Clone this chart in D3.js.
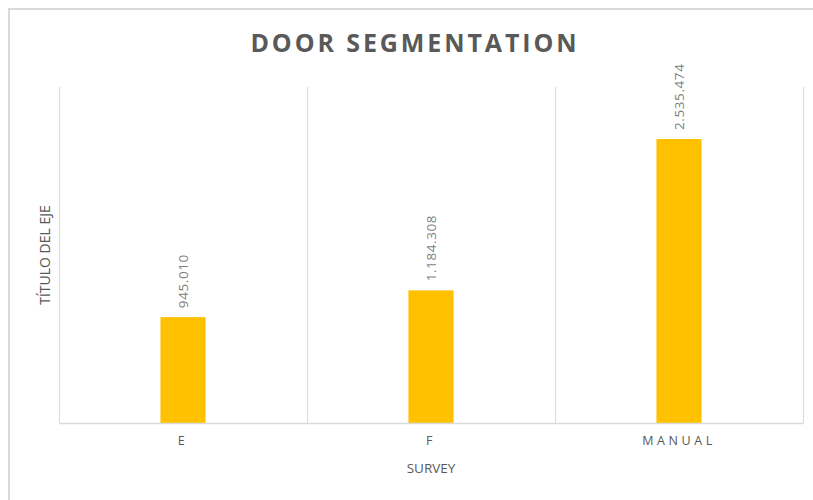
<!DOCTYPE html>
<html>
<head>
<meta charset="utf-8">
<script src="https://cdn.jsdelivr.net/npm/d3@7"></script>
<style>
  html, body { margin: 0; padding: 0; background: #ffffff; }
  svg { display: block; }
</style>
</head>
<body>
<svg id="chart" width="813" height="500"></svg>
<script>
// Door segmentation totals per survey type
const categories = ["E", "F", "MANUAL"];
const values = [945010, 1184308, 2535474];
const valueLabels = ["945.010", "1.184.308", "2.535.474"];
const yDomain = [0, 3000000];

const svg = d3.select("#chart");
const W = 813, H = 500;
const margin = { top: 87, right: 10, bottom: 77, left: 59 };
const plotW = W - margin.left - margin.right;   // 744
const plotH = H - margin.top - margin.bottom;   // 336

const font = "'Open Sans', 'Noto Sans', sans-serif";

// Chart frame
svg.append("rect")
  .attr("x", 9).attr("y", 9)
  .attr("width", W + 20).attr("height", H + 20)
  .attr("fill", "#ffffff")
  .attr("stroke", "#d9d9d9")
  .attr("stroke-width", 2);

// Title
svg.append("text")
  .attr("x", 415).attr("y", 52)
  .attr("text-anchor", "middle")
  .attr("font-family", font)
  .attr("font-weight", "bold")
  .attr("font-size", 25)
  .attr("letter-spacing", 2.9)
  .attr("fill", "#595959")
  .text("DOOR SEGMENTATION");

const g = svg.append("g").attr("transform", `translate(${margin.left},${margin.top})`);

const x = d3.scaleBand().domain(categories).range([0, plotW]).paddingInner(0).paddingOuter(0);
const y = d3.scaleLinear().domain(yDomain).range([plotH, 0]);

// Vertical gridlines at category boundaries
const bounds = categories.map(c => x(c)).concat([plotW]);
g.selectAll("line.grid")
  .data(bounds)
  .enter().append("line")
  .attr("class", "grid")
  .attr("x1", d => d + 0.5).attr("x2", d => d + 0.5)
  .attr("y1", 0).attr("y2", plotH)
  .attr("stroke", "#d9d9d9")
  .attr("stroke-width", 1);

// Bars
const barW = x.bandwidth() * 0.182;
g.selectAll("rect.bar")
  .data(values)
  .enter().append("rect")
  .attr("class", "bar")
  .attr("x", (d, i) => x(categories[i]) + x.bandwidth() / 2 - barW / 2)
  .attr("y", d => y(d))
  .attr("width", barW)
  .attr("height", d => plotH - y(d))
  .attr("fill", "#ffc000");

// Baseline axis
const xAxis = d3.axisBottom(x).tickSize(0).tickPadding(13);
const axisG = g.append("g")
  .attr("transform", `translate(0,${plotH})`)
  .call(xAxis);
axisG.select(".domain").attr("stroke", "#d9d9d9").attr("stroke-width", 1.5);
axisG.selectAll("text")
  .attr("font-family", font)
  .attr("font-size", 12.5)
  .attr("letter-spacing", 3.6)
  .attr("fill", "#595959");

// Value labels, rotated above each bar
g.selectAll("text.value")
  .data(values)
  .enter().append("text")
  .attr("class", "value")
  .attr("transform", (d, i) => {
    const cx = x(categories[i]) + x.bandwidth() / 2;
    return `translate(${cx},${y(d) - 9}) rotate(-90)`;
  })
  .attr("text-anchor", "start")
  .attr("dy", "0.35em")
  .attr("font-family", font)
  .attr("font-size", 13.5)
  .attr("letter-spacing", 0.6)
  .attr("fill", "#7f7f7f")
  .text((d, i) => valueLabels[i]);

// Axis titles
svg.append("text")
  .attr("x", margin.left + plotW / 2).attr("y", 473)
  .attr("text-anchor", "middle")
  .attr("font-family", font)
  .attr("font-size", 13.5)
  .attr("fill", "#595959")
  .text("SURVEY");

svg.append("text")
  .attr("transform", `translate(50,${margin.top + plotH / 2}) rotate(-90)`)
  .attr("text-anchor", "middle")
  .attr("font-family", font)
  .attr("font-size", 14)
  .attr("fill", "#595959")
  .text("TÍTULO DEL EJE");
</script>
</body>
</html>
